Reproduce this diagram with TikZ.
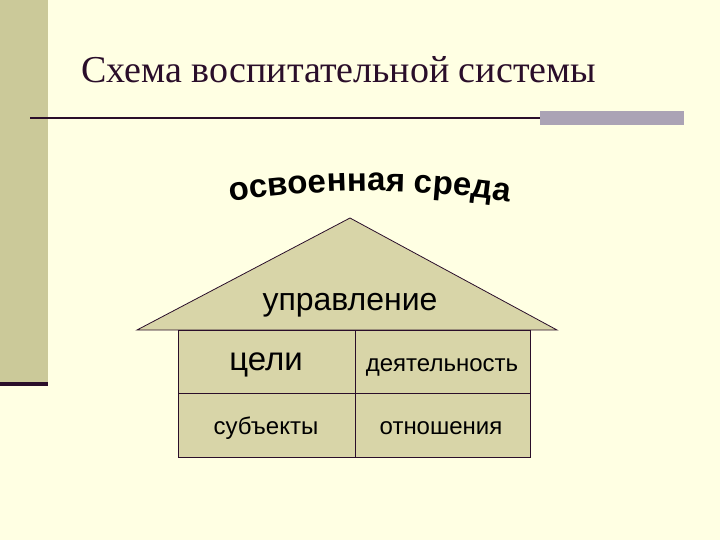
\documentclass[tikz,border=0pt]{standalone}
\usepackage{fontspec}
\setmainfont{Liberation Serif}
\newfontfamily\sansf{Liberation Sans}
\usetikzlibrary{decorations.text}
\definecolor{bg}{HTML}{FFFFE3}
\definecolor{bar}{HTML}{CBC999}
\definecolor{dk}{HTML}{2A0E2A}
\definecolor{gbox}{HTML}{ABA3B5}
\definecolor{house}{HTML}{D8D5A8}
\tikzset{cell/.style={font=\sansf\fontsize{24}{28}\selectfont}}
\begin{document}
\begin{tikzpicture}[x=1pt,y=-1pt]
\fill[bg] (0,0) rectangle (720,540);
\useasboundingbox (0,0) rectangle (720,540);
\fill[bar] (0,0) rectangle (48,382);
\fill[dk] (0,382) rectangle (48,385.5);
\draw[dk,line width=1.5pt] (30,118) -- (684,118);
\fill[gbox] (540,111) rectangle (684,125);
\node[anchor=west,text=dk,font=\fontsize{38}{42}\selectfont] (title) at (78,70) {Схема воспитательной системы};
\path[decorate,decoration={text along path,text align=center,
  text={|\sansf\bfseries\fontsize{33}{34}\selectfont|освоенная среда}}]
  (205,206) .. controls (320,186) and (420,186) .. (535,206);
\filldraw[fill=house,draw=dk,line width=0.8pt] (137,330) -- (350,218) -- (557,330) -- cycle;
\filldraw[fill=house,draw=dk,line width=0.8pt] (178,330) rectangle (530,457);
\draw[dk,line width=0.8pt] (178,393) -- (530,393);
\draw[dk,line width=0.8pt] (355,330) -- (355,457);
\node[font=\sansf\fontsize{32}{36}\selectfont] (upr) at (350,305) {управление};
\node[font=\sansf\fontsize{33}{36}\selectfont] (tseli) at (266,365) {цели};
\node[cell] (deyat) at (442,367) {деятельность};
\node[cell] (subj) at (266,428) {субъекты};
\node[cell] (otn) at (441,428) {отношения};
\end{tikzpicture}
\end{document}
